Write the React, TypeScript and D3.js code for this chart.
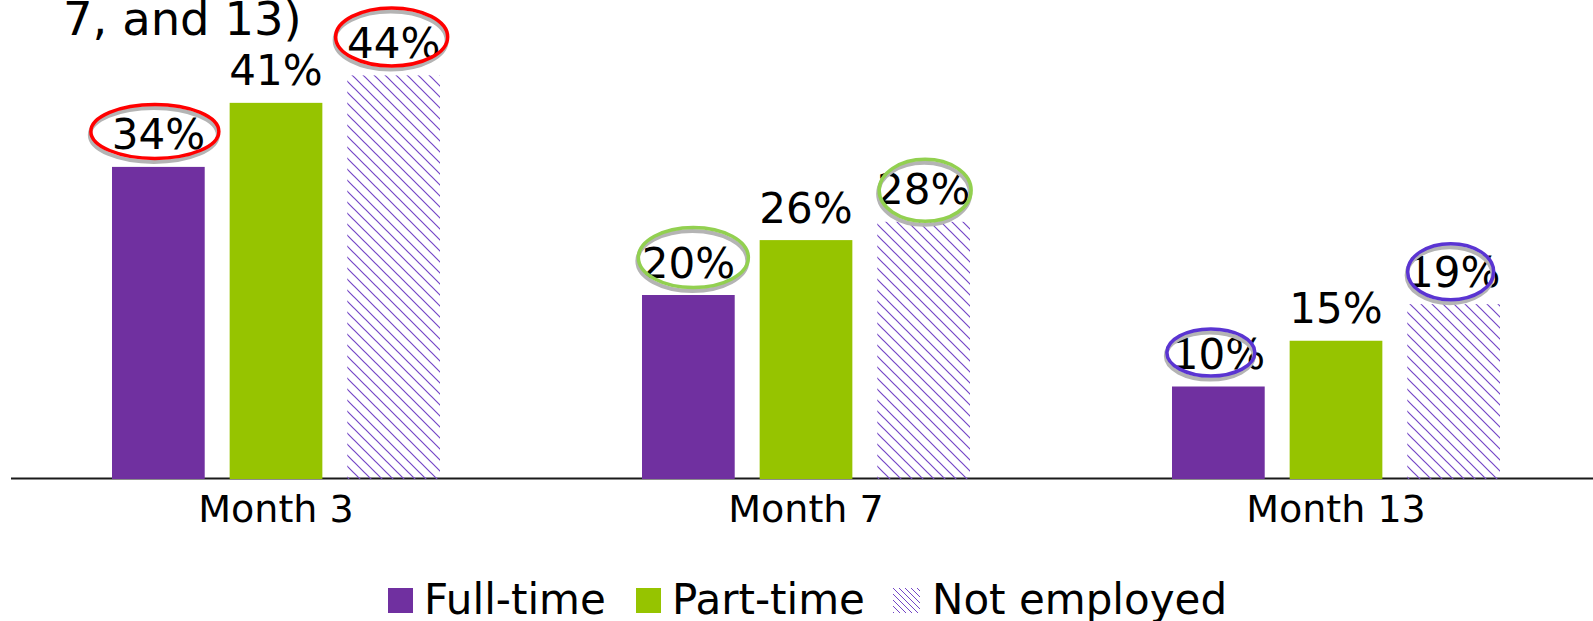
import React, {useEffect, useRef} from "react";
import * as d3 from 'd3';

const WIDTH = 1593;
const HEIGHT = 621;
const BASELINE = 478;
const FONT = "'DejaVu Sans', Verdana, sans-serif";

// data
const months = ["Month 3", "Month 7", "Month 13"];
const series = ["Full-time", "Part-time", "Not employed"];
const fullTime = [34, 20, 10];
const partTime = [41, 26, 15];
const notEmployed = [44, 28, 19];
const titleTail = "7, and 13)";

// which labels got circled, and with what pen
const circled = [
    {month: "Month 3", series: "Full-time", color: "#ff0000"},
    {month: "Month 3", series: "Not employed", color: "#ff0000"},
    {month: "Month 7", series: "Full-time", color: "#92d050"},
    {month: "Month 7", series: "Not employed", color: "#92d050"},
    {month: "Month 13", series: "Full-time", color: "#5a34d2"},
    {month: "Month 13", series: "Not employed", color: "#5a34d2"},
];
// hand drawn ellipses: [dx from bar centre, dy from label baseline, rx, ry]
const ellipseShapes = [
    [-3.5, -18, 64, 27],
    [-2, -21, 56, 29],
    [5, -20, 55, 30],
    [1.5, -14, 46, 31],
    [-7.5, -16.5, 44, 23.5],
    [-3, -15, 43, 28],
];

const COLORS: Record<string, string> = {
    "Full-time": "#7030a0",
    "Part-time": "#96c400",
    "Not employed": "url(#hatch)",
};

export default function App() {
    const ref = useRef<SVGSVGElement>(null);

    useEffect(() => {
        document.body.style.margin = "0";
        const svg = d3.select(ref.current);
        svg.selectAll("*").remove();

        const defs = svg.append("defs");
        const hatch = defs.append("pattern")
            .attr("id", "hatch")
            .attr("patternUnits", "userSpaceOnUse")
            .attr("width", 11).attr("height", 11);
        hatch.append("path")
            .attr("d", "M0,0L11,11M-1,10L1,12M10,-1L12,1")
            .attr("stroke", "#7446c6").attr("stroke-width", 1.2);
        const hatchSmall = defs.append("pattern")
            .attr("id", "hatchSmall")
            .attr("patternUnits", "userSpaceOnUse")
            .attr("width", 6).attr("height", 6);
        hatchSmall.append("path")
            .attr("d", "M0,0L6,6M-1,5L1,7M5,-1L7,1")
            .attr("stroke", "#7446c6").attr("stroke-width", 1);

        const rows = months.map((m, i) => ({
            month: m,
            values: [fullTime[i], partTime[i], notEmployed[i]],
        }));

        const x0 = d3.scaleBand().domain(months).range([11, 1601]);
        const groupW = 328;
        const x1 = d3.scaleBand().domain(series).range([0, groupW]).paddingInner(0.212);
        const groupOffset = (x0.bandwidth() - groupW) / 2;
        const y = d3.scaleLinear().domain([0, 50]).range([BASELINE, BASELINE - 50 * 9.15]);

        // title fragment (rest is above the crop)
        svg.append("text")
            .attr("x", 63).attr("y", 35)
            .attr("font-family", FONT).attr("font-size", 46.5)
            .text(titleTail);

        // axis line
        svg.append("line")
            .attr("x1", 11).attr("x2", WIDTH)
            .attr("y1", BASELINE + 0.5).attr("y2", BASELINE + 0.5)
            .attr("stroke", "#1a1a1a").attr("stroke-width", 2);

        const groups = svg.selectAll("g.grp")
            .data(rows)
            .enter()
            .append("g")
            .attr("class", "grp")
            .attr("transform", d => "translate(" + ((x0(d.month) || 0) + groupOffset) + ",0)");

        groups.selectAll("rect")
            .data(d => d.values.map((v, j) => ({s: series[j], v})))
            .enter()
            .append("rect")
            .attr("x", d => x1(d.s) || 0)
            .attr("y", d => y(d.v))
            .attr("width", x1.bandwidth())
            .attr("height", d => BASELINE + 1 - y(d.v))
            .attr("fill", d => COLORS[d.s]);

        // circles drawn behind the labels
        circled.forEach((c, k) => {
            const i = months.indexOf(c.month);
            const j = series.indexOf(c.series);
            const v = rows[i].values[j];
            const [dx, dy, rx, ry] = ellipseShapes[k];
            const cx = (x0(c.month) || 0) + groupOffset + (x1(c.series) || 0) + x1.bandwidth() / 2 + dx;
            const cy = y(v) - 17.5 + dy;
            svg.append("ellipse")
                .attr("cx", cx - 1).attr("cy", cy + 3.5)
                .attr("rx", rx).attr("ry", ry)
                .attr("fill", "none").attr("stroke", "#b4b4b4").attr("stroke-width", 4);
            svg.append("ellipse")
                .attr("cx", cx).attr("cy", cy)
                .attr("rx", rx).attr("ry", ry)
                .attr("fill", "none").attr("stroke", c.color).attr("stroke-width", 3.5);
        });

        groups.selectAll("text.val")
            .data(d => d.values.map((v, j) => ({s: series[j], v})))
            .enter()
            .append("text")
            .attr("class", "val")
            .attr("x", d => (x1(d.s) || 0) + x1.bandwidth() / 2)
            .attr("y", d => y(d.v) - 17.5)
            .attr("text-anchor", "middle")
            .attr("font-family", FONT).attr("font-size", 42)
            .text(d => d.v + "%");

        groups.append("text")
            .attr("x", groupW / 2)
            .attr("y", 522)
            .attr("text-anchor", "middle")
            .attr("font-family", FONT).attr("font-size", 38)
            .text(d => d.month);

        // legend
        const legendX = [388, 636, 893];
        const legend = svg.selectAll("g.leg")
            .data(series)
            .enter()
            .append("g")
            .attr("class", "leg")
            .attr("transform", (d, i) => "translate(" + legendX[i] + ",588)");
        legend.append("rect")
            .attr("width", (d, i) => i === 2 ? 27 : 25)
            .attr("height", 25)
            .attr("fill", d => d === "Not employed" ? "url(#hatchSmall)" : COLORS[d]);
        legend.append("text")
            .attr("x", (d, i) => i === 2 ? 39 : 36)
            .attr("y", 26)
            .attr("font-family", FONT).attr("font-size", 42)
            .text(d => d);
    }, []);

    return (
        <svg ref={ref} width={WIDTH} height={HEIGHT} style={{display: "block"}}/>
    );
}
